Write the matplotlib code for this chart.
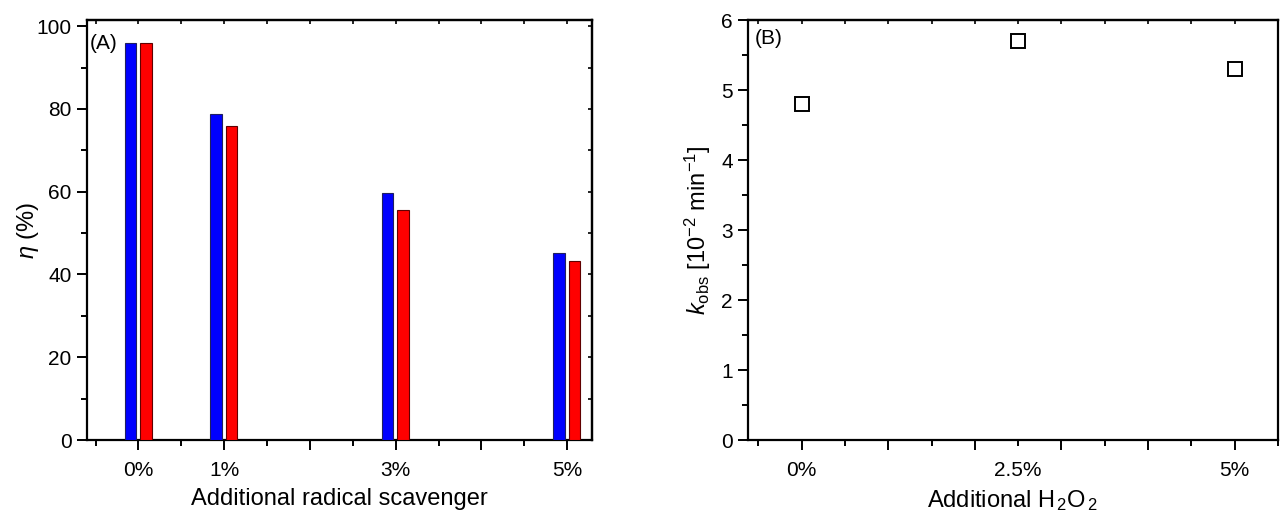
import matplotlib
matplotlib.use("Agg")
import matplotlib.pyplot as plt
import numpy as np

# ---- data ----
scav_x = [0, 1, 3, 5]
scav_labels = ["0%", "1%", "3%", "5%"]
eta_blue = [96, 78.8, 59.7, 45.3]
eta_red = [96, 76.0, 55.6, 43.3]

h2o2_x = [0, 2.5, 5]
h2o2_labels = ["0%", "2.5%", "5%"]
kobs = [4.8, 5.7, 5.3]

plt.rcParams["font.family"] = ["Liberation Sans", "DejaVu Sans"]
plt.rcParams["mathtext.fontset"] = "custom"
plt.rcParams["mathtext.rm"] = "Liberation Sans"
plt.rcParams["mathtext.it"] = "Liberation Sans:italic"
plt.rcParams["mathtext.bf"] = "Liberation Sans:bold"

fig = plt.figure(figsize=(12.8, 5.17), dpi=100)
axA = fig.add_axes([87/1280, 77/517, 505/1280, 420/517])
axB = fig.add_axes([748/1280, 77/517, 530/1280, 420/517])

# ---- panel A ----
w = 0.135
bx = [x - 0.095 for x in scav_x]
rx = [x + 0.085 for x in scav_x]
axA.bar(bx, eta_blue, width=w, color="#0000FF", edgecolor="#202060", linewidth=0.8, zorder=3)
axA.bar(rx, eta_red, width=w, color="#FF0000", edgecolor="#600000", linewidth=0.8, zorder=3)
axA.set_xlim(-0.6, 5.29)
axA.set_ylim(0, 101.5)
tick_labels_A = ["" for _ in range(6)]
for x, lab in zip(scav_x, scav_labels):
    tick_labels_A[x] = lab
axA.set_xticks([0, 1, 2, 3, 4, 5], labels=tick_labels_A)
axA.set_xticks(np.arange(-0.5, 5.3, 0.5), minor=True)
axA.set_yticks([0, 20, 40, 60, 80, 100])
axA.set_yticks(np.arange(10, 100, 20), minor=True)
for s in axA.spines.values():
    s.set_linewidth(1.6)
axA.tick_params(which="major", direction="out", length=7, width=1.4, labelsize=15, pad=4)
axA.tick_params(which="minor", direction="out", length=4, width=1.4)
axA.tick_params(axis="x", which="major", pad=8)
sx = axA.secondary_xaxis("top")
sx.set_xticks(np.arange(-0.5, 5.3, 0.5), labels=[])
sx.tick_params(direction="in", length=3, width=1.2)
sx.spines["top"].set_linewidth(1.6)
sy = axA.secondary_yaxis("right")
sy.set_yticks(np.arange(0, 101, 10), labels=[])
sy.tick_params(direction="in", length=3, width=1.2)
sy.spines["right"].set_linewidth(1.6)
axA.set_xlabel("Additional radical scavenger", fontsize=17, labelpad=6)
axA.set_ylabel(r"$\eta$ (%)", fontsize=17, labelpad=-3)
axA.text(0.005, 0.945, "(A)", transform=axA.transAxes, fontsize=15, va="center", ha="left")

# ---- panel B ----
axB.plot(h2o2_x, kobs, linestyle="none", marker="s", markersize=9.5,
         markerfacecolor="white", markeredgecolor="black", markeredgewidth=1.4, zorder=3)
axB.set_xlim(-0.62, 5.5)
axB.set_ylim(0, 6)
axB.set_xticks([0, 1, 2, 3, 4, 5], labels=["0%", "", "", "", "", "5%"])
minor_x = np.arange(-0.5, 5.6, 0.5)
minor_labels = ["2.5%" if abs(v - 2.5) < 1e-9 else "" for v in minor_x]
axB.set_xticks(minor_x, labels=minor_labels, minor=True)
axB.set_yticks([0, 1, 2, 3, 4, 5, 6])
axB.set_yticks(np.arange(0.5, 6, 1.0), minor=True)
for s in axB.spines.values():
    s.set_linewidth(1.6)
axB.tick_params(which="major", direction="out", length=7, width=1.4, labelsize=15, pad=4)
axB.tick_params(which="minor", direction="out", length=4, width=1.4, labelsize=15)
axB.tick_params(axis="x", which="major", pad=8)
axB.tick_params(axis="x", which="minor", pad=11)
sx2 = axB.secondary_xaxis("top")
sx2.set_xticks(np.arange(-0.5, 5.6, 0.5), labels=[])
sx2.tick_params(direction="in", length=3, width=1.2)
sx2.spines["top"].set_linewidth(1.6)
axB.set_xlabel(r"Additional H$_{\,2}$O$_{\,2}$", fontsize=17, labelpad=6)
axB.set_ylabel(r"$k_{\mathrm{obs}}$ [10$^{-2}$ min$^{-1}$]", fontsize=17, labelpad=6)
axB.text(0.013, 0.955, "(B)", transform=axB.transAxes, fontsize=15, va="center", ha="left")

fig.savefig("out.png", dpi=100)
